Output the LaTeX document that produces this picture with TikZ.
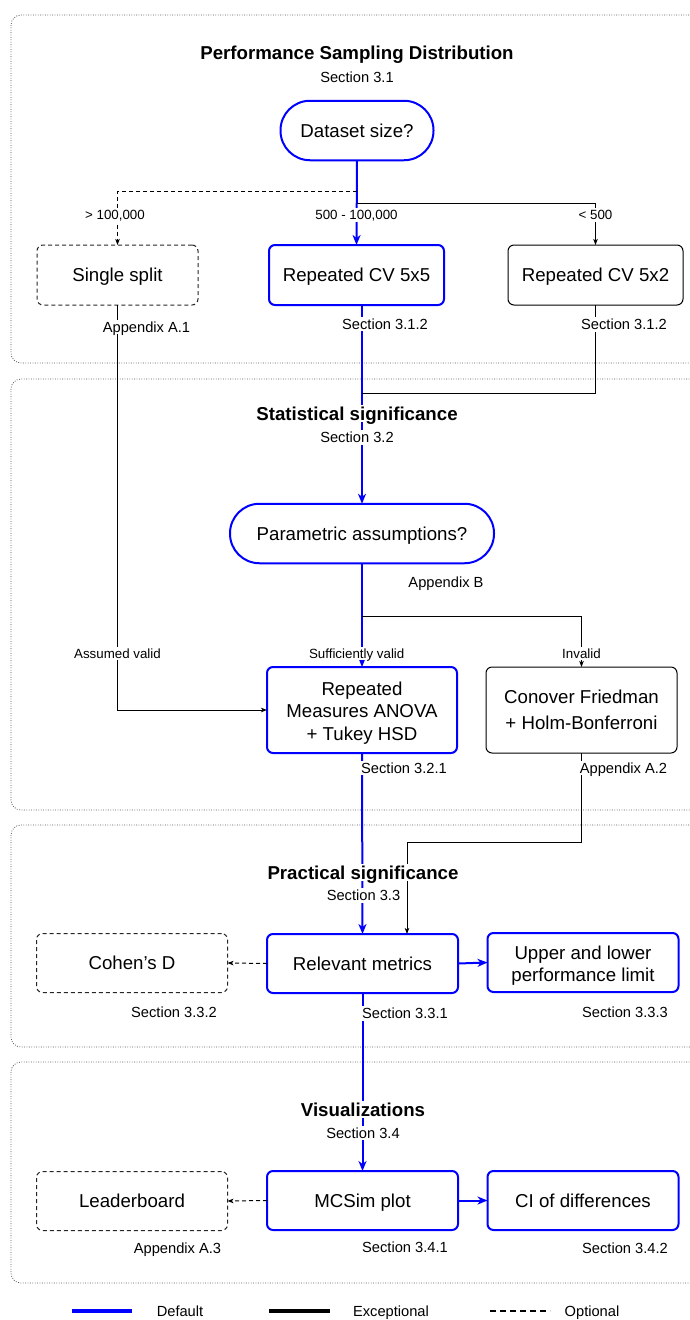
\documentclass[tikz,border=0pt]{standalone}
\usepackage{fontspec}
\setmainfont{Liberation Sans}
\usetikzlibrary{arrows.meta}
\definecolor{dblue}{RGB}{0,0,255}
\begin{document}
\begin{tikzpicture}[x=1pt,y=-1pt,
  every node/.style={inner sep=0pt, outer sep=0pt},
  boxtext/.style={font=\fontsize{18.67}{22.5}\selectfont, align=center},
  oneline/.style={text height=13.4pt, text depth=0pt},
  defbox/.style={boxtext, draw=dblue, line width=2pt, rounded corners=6pt, fill=white},
  excbox/.style={boxtext, draw=black, line width=1pt, rounded corners=6pt, fill=white},
  optbox/.style={boxtext, draw=black!85, line width=1pt, dash pattern=on 4pt off 3pt, rounded corners=6pt, fill=white},
  framebox/.style={draw=black!65, line width=0.8pt, dash pattern=on 0.8pt off 1.6pt, rounded corners=10pt},
  sectitle/.style={font=\bfseries\fontsize{18.67}{22}\selectfont, fill=white, inner sep=2pt, text height=13.4pt, text depth=0pt},
  seclab/.style={font=\fontsize{14.67}{17}\selectfont, fill=white, inner sep=2pt, text height=10.56pt, text depth=0pt},
  brlab/.style={font=\fontsize{13.33}{16}\selectfont, fill=white, inner sep=2pt, text height=9.6pt, text depth=0pt},
  leglab/.style={font=\fontsize{14.67}{17}\selectfont, text height=10.56pt, text depth=0pt},
  defline/.style={draw=dblue, line width=2pt},
  defarrow/.style={defline, -{Stealth[length=10pt,width=8pt,inset=3pt]}},
  excline/.style={draw=black, line width=1pt},
  excarrow/.style={excline, -{Stealth[length=6pt,width=4.5pt,inset=1.5pt]}},
  optarrow/.style={excline, dash pattern=on 4pt off 3pt, -{Stealth[length=6pt,width=4.5pt,inset=1.5pt]}},
]
\useasboundingbox[fill=white] (0,0) rectangle (689,1320);

% section frames
\draw[framebox] (11,15) rectangle (730,363);
\draw[framebox] (11,379) rectangle (730,810);
\draw[framebox] (11,825) rectangle (730,1047);
\draw[framebox] (11,1062) rectangle (730,1283);

% boxes
\node[defbox, oneline, rounded corners=29.5pt, minimum width=153pt, minimum height=59.5pt] (ds) at (357,130.5) {Dataset size?};
\node[optbox, oneline, minimum width=161pt, minimum height=60pt] (ss) at (117.5,275) {Single split};
\node[defbox, oneline, minimum width=175pt, minimum height=60pt] (cv55) at (356.5,275) {Repeated CV 5x5};
\node[excbox, oneline, minimum width=175pt, minimum height=60pt] (cv52) at (595.5,275) {Repeated CV 5x2};

\node[defbox, oneline, rounded corners=29.5pt, minimum width=264pt, minimum height=59.5pt] (pa) at (362,533.5) {Parametric assumptions?};
\node[defbox, minimum width=190pt, minimum height=86pt] (rm) at (362,710) {\rule{0pt}{19pt}Repeated\\Measures ANOVA\\+ Tukey HSD};
\node[excbox, minimum width=191pt, minimum height=86pt, font=\fontsize{18.67}{26}\selectfont] (cf) at (581.5,710) {Conover Friedman\\+ Holm-Bonferroni};

\node[defbox, oneline, minimum width=191pt, minimum height=59pt] (rel) at (362.5,963.5) {Relevant metrics};
\node[optbox, oneline, minimum width=191pt, minimum height=59pt] (coh) at (132,963) {Cohen’s D};
\node[defbox, minimum width=191pt, minimum height=59pt, font=\fontsize{18.67}{22}\selectfont] (ul) at (583,962.5) {\rule{0pt}{20pt}Upper and lower\\performance limit};

\node[defbox, oneline, minimum width=191pt, minimum height=59pt] (mc) at (362.5,1200.5) {MCSim plot};
\node[optbox, oneline, minimum width=191pt, minimum height=59pt] (lb) at (132,1201) {Leaderboard};
\node[defbox, oneline, minimum width=191pt, minimum height=59pt] (ci) at (583,1200.5) {CI of differences};

% junction coordinates
\coordinate (j1) at (357,191);
\coordinate (j2) at (357,203);
\coordinate (j3) at (362,393);
\coordinate (j4) at (362,616);
\coordinate (j5) at (0,842);

% connectors
\draw[defarrow] (ds.south) -- (cv55.north);
\draw[optarrow] (j1) -| (ss.north);
\draw[excarrow] (j2) -| (cv52.north);
\draw[defarrow] ([xshift=5.5pt]cv55.south) -- (pa.north);
\draw[excline] (cv52.south) |- (j3);
\draw[excarrow] (ss.south) |- (rm.west);
\draw[defarrow] (pa.south) -- (rm.north);
\draw[excarrow] (j4) -| (cf.north);
\draw[defarrow] (rm.south) -- (rel.north);
\draw[excarrow] (cf.south) -- (cf.south |- j5) -| ([xshift=44.5pt]rel.north);
\draw[optarrow] (rel.west) -- (coh.east);
\draw[defarrow] (rel.east) -- (ul.west);
\draw[defarrow] (rel.south) -- (mc.north);
\draw[optarrow] (mc.west) -- (lb.east);
\draw[defarrow] (mc.east) -- (ci.west);

% titles and labels
\node[sectitle] (t1) at (357,53) {Performance Sampling Distribution};
\node[seclab] (s31) at (357,77) {Section 3.1};
\node[brlab] (b1) at (115,215) {> 100,000};
\node[brlab] (b2) at (356.5,215) {500 - 100,000};
\node[brlab] (b3) at (595.5,215) {< 500};
\node[seclab] (a1) at (146.5,327) {Appendix A.1};
\node[seclab] (s312a) at (385,324) {Section 3.1.2};
\node[seclab] (s312b) at (624,324.5) {Section 3.1.2};

\node[sectitle] (t2) at (357,413.5) {Statistical significance};
\node[seclab] (s32) at (357,437.5) {Section 3.2};
\node[seclab] (ab) at (446,582.5) {Appendix B};
\node[brlab] (l1) at (117.5,653.5) {Assumed valid};
\node[brlab] (l2) at (356.7,653.5) {Sufficiently valid};
\node[brlab] (l3) at (581.5,653.5) {Invalid};
\node[seclab] (s321) at (404,768) {Section 3.2.1};
\node[seclab] (a2) at (623.5,768) {Appendix A.2};

\node[sectitle] (t3) at (363,872.5) {Practical significance};
\node[seclab] (s33) at (363.5,895.5) {Section 3.3};
\node[seclab] (s332) at (174,1012.5) {Section 3.3.2};
\node[seclab] (s331) at (405,1013.5) {Section 3.3.1};
\node[seclab] (s333) at (625,1012) {Section 3.3.3};

\node[sectitle] (t4) at (363,1109.5) {Visualizations};
\node[seclab] (s34) at (363,1133) {Section 3.4};
\node[seclab] (a3) at (177.5,1248) {Appendix A.3};
\node[seclab] (s341) at (405,1247) {Section 3.4.1};
\node[seclab] (s342) at (625,1248) {Section 3.4.2};

% legend
\draw[dblue, line width=4pt] (72,1311) -- (132,1311);
\node[leglab] (lgd) at (180,1311) {Default};
\draw[black, line width=4pt] (269,1311) -- (330,1311);
\node[leglab] (lge) at (391,1311) {Exceptional};
\draw[black, line width=1.5pt, dash pattern=on 6pt off 4pt] (490,1311) -- (550,1311);
\node[leglab] (lgo) at (592,1311) {Optional};
\end{tikzpicture}
\end{document}
